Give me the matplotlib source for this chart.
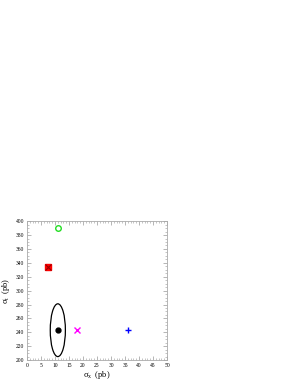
import matplotlib
matplotlib.use("Agg")
import matplotlib.pyplot as plt
from matplotlib.patches import Ellipse
from matplotlib.ticker import MultipleLocator

plt.rcParams['font.family'] = ['Liberation Serif', 'DejaVu Serif']
plt.rcParams['mathtext.fontset'] = 'custom'
plt.rcParams['mathtext.rm'] = 'Liberation Serif'

# measured point (with error ellipse)
meas_x, meas_y = 11.0, 243.0
meas_dx, meas_dy = 2.7, 38.0

# model points
open_circle = (11.0, 390.0)
red_square = (7.5, 334.0)
magenta_x = (18.0, 243.0)
blue_plus = (36.0, 243.0)

fig = plt.figure(figsize=(3.0, 3.88), dpi=100)
ax = fig.add_axes([0.09, 0.072, 0.467, 0.358])

ax.add_patch(Ellipse((meas_x, meas_y), 2 * meas_dx, 2 * meas_dy,
                     fill=False, edgecolor='black', lw=0.9))
ax.plot(meas_x, meas_y, 'o', color='black', ms=3.5)

ax.plot(*open_circle, 'o', mfc='none', mec='#22dd22', mew=1.0, ms=4)
ax.plot(*red_square, 's', color='red', ms=4)
ax.plot(*red_square, 'x', color='#990000', ms=4, mew=0.8)
ax.plot(*magenta_x, 'x', color='magenta', ms=4.5, mew=1.0)
ax.plot(*blue_plus, '+', color='blue', ms=5, mew=1.0)

ax.set_xlim(0, 50)
ax.set_ylim(200, 400)
ax.xaxis.set_major_locator(MultipleLocator(5))
ax.xaxis.set_minor_locator(MultipleLocator(1))
ax.yaxis.set_major_locator(MultipleLocator(20))
ax.yaxis.set_minor_locator(MultipleLocator(5))
ax.tick_params(which='both', direction='in', top=True, right=True,
               color='#999999', labelsize=4, pad=2)
ax.tick_params(which='major', length=3, width=0.5)
ax.tick_params(which='minor', length=1.5, width=0.4)
for s in ax.spines.values():
    s.set_color('#aaaaaa')
    s.set_linewidth(0.6)

ax.set_xlabel('\u03c3$_\\mathrm{x}$  (pb)', fontsize=6, labelpad=1)
ax.set_ylabel('\u03c3$_\\mathrm{t}$  (pb)', fontsize=6, labelpad=3)

fig.savefig('out.png', dpi=100)
